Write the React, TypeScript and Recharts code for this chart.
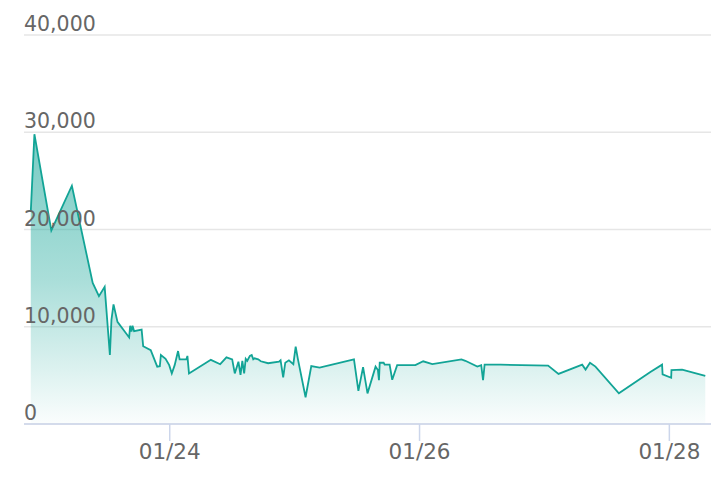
import { AreaChart, Area, XAxis, YAxis, CartesianGrid } from 'recharts'

// hours since 01/22 00:00
const hours = [
  21.3, 22.0, 25.25, 29.2, 33.2, 34.4, 35.5, 36.5, 36.8, 37.2,
  37.96, 40.2, 40.4, 40.65, 40.85, 41.15, 42.6, 42.9, 44.35, 45.6,
  46.1, 46.3, 47.2, 47.9, 48.4, 48.95, 49.6, 49.9, 51.2, 51.4,
  51.7, 55.9, 57.7, 58.9, 60.0, 60.5, 61.2, 61.6, 61.95, 62.3,
  62.6, 62.9, 63.4, 63.75, 64.05, 64.3, 65.0, 65.5, 66.9, 69.0,
  69.3, 69.8, 70.2, 70.9, 71.75, 72.2, 72.6, 74.1, 75.2, 76.8,
  83.4, 84.25, 85.15, 86.0, 87.55, 88.0, 88.2, 88.35, 89.1, 89.3,
  90.25, 90.75, 91.7, 95.2, 96.7, 98.45, 104.05, 104.8, 107.1, 107.85,
  108.2, 108.5, 111.55, 120.7, 122.7, 127.25, 127.9, 128.75, 129.8, 134.3,
  140.35, 142.6, 142.7, 144.35, 144.4, 146.45, 150.9,
]

const values = [
  21800, 29800, 19900, 24500, 14500, 13150, 14100, 7100, 10700, 12300,
  10500, 8900, 10100, 9500, 10100, 9550, 9700, 8000, 7600, 5900,
  5950, 7100, 6700, 6050, 5200, 6050, 7500, 6650, 6650, 7000,
  5200, 6600, 6150, 6850, 6650, 5200, 6400, 5050, 6500, 5200,
  6700, 6500, 7000, 7100, 6650, 6750, 6650, 6450, 6250, 6400,
  6550, 4800, 6300, 6550, 6150, 7950, 6750, 2750, 5950, 5800,
  6650, 3400, 5850, 3150, 5900, 5550, 4500, 6300, 6300, 6100,
  6100, 4550, 6050, 6050, 6450, 6150, 6650, 6500, 5900, 6050,
  4500, 6100, 6100, 6000, 5150, 6100, 5600, 6300, 5900, 3150,
  5350, 6100, 5100, 4750, 5550, 5600, 4950,
]

const tickHours = [48, 96, 144]
const tickLabels = ['01/24', '01/26', '01/28']
const yTicks = [0, 10000, 20000, 30000, 40000]

const data = hours.map((h, i) => ({ h, v: values[i] }))

const LINE = '#12a496'

export default function App() {
  return (
    <div style={{ position: 'fixed', left: 0, top: 0, width: 728, height: 486, background: '#fff' }}>
      <AreaChart
        width={728}
        height={486}
        data={data}
        margin={{ top: 35, right: 17, left: 23, bottom: 0 }}
        style={{ fontFamily: '"DejaVu Sans", sans-serif' }}
      >
        <defs>
          <linearGradient id="fillGrad" x1="0" y1="0" x2="0" y2="1">
            <stop offset="0%" stopColor={LINE} stopOpacity={0.95} />
            <stop offset="50%" stopColor={LINE} stopOpacity={0.6} />
            <stop offset="100%" stopColor={LINE} stopOpacity={0.03} />
          </linearGradient>
        </defs>
        <CartesianGrid vertical={false} stroke="#e6e6e6" strokeWidth={1.5} />
        <XAxis
          type="number"
          dataKey="h"
          domain={[20, 152]}
          ticks={tickHours}
          tickFormatter={(h: number) => tickLabels[tickHours.indexOf(h)]}
          height={62}
          tickSize={17}
          tickMargin={3}
          stroke="#ccd6eb"
          tick={{ fill: '#666666', fontSize: 21.5 }}
          axisLine={{ stroke: '#ccd6eb', strokeWidth: 1.5 }}
          tickLine={{ stroke: '#ccd6eb', strokeWidth: 1.5 }}
        />
        <YAxis
          width={1}
          domain={[0, 40000]}
          ticks={yTicks}
          interval={0}
          axisLine={false}
          tickLine={false}
          tick={(props: any) => (
            <text key={props.index} x={24} y={props.y - 4} fill="#666666" fontSize={20.5} textAnchor="start">
              {Number(props.payload.value).toLocaleString('en-US')}
            </text>
          )}
        />
        <Area
          type="linear"
          dataKey="v"
          stroke={LINE}
          strokeWidth={1.8}
          fill="url(#fillGrad)"
          isAnimationActive={false}
          dot={false}
          activeDot={false}
        />
      </AreaChart>
    </div>
  )
}
